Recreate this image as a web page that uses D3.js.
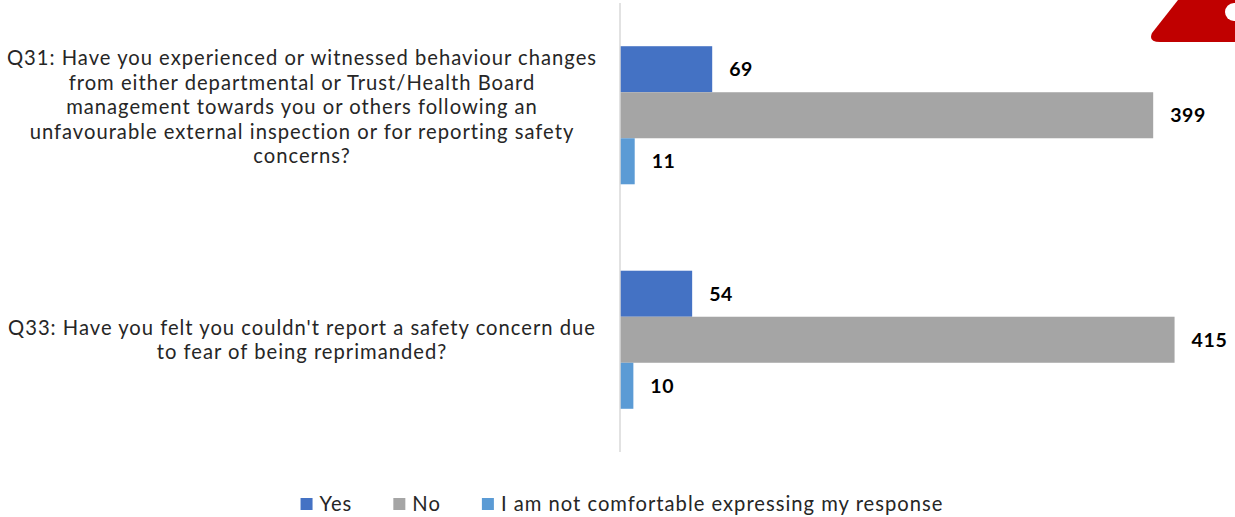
<!DOCTYPE html>
<html>
<head>
<meta charset="utf-8">
<script src="https://cdn.jsdelivr.net/npm/d3@7"></script>
<style>
  html, body { margin: 0; padding: 0; background: #fff; }
  svg { display: block; font-family: Lato, "Open Sans", sans-serif; }
</style>
</head>
<body>
<svg id="chart" width="1235" height="517"></svg>
<script>
// Survey questions (each entry is the wrapped lines of the question)
const questions = ["Q31", "Q33"];
const questionLines = [
  ["Q31: Have you experienced or witnessed behaviour changes",
   "from either departmental or Trust/Health Board",
   "management towards you or others following an",
   "unfavourable external inspection or for reporting safety",
   "concerns?"],
  ["Q33: Have you felt you couldn't report a safety concern due",
   "to fear of being reprimanded?"]
];
const seriesNames = ["Yes", "No", "I am not comfortable expressing my response"];
const yesValues = [69, 54];
const noValues = [399, 415];
const notComfortableValues = [11, 10];
const seriesColors = ["#4472C4", "#A5A5A5", "#5B9BD5"];

const seriesValues = [yesValues, noValues, notComfortableValues];

const svg = d3.select("#chart");
const textColor = "#262626";
const labelSize = 20.2;
const labelTracking = 1.0;

const plot = { left: 620, right: 1220, top: 3, bottom: 452 };

const x = d3.scaleLinear()
  .domain([0, 449])
  .range([plot.left, plot.right]);

const y0 = d3.scaleBand()
  .domain(questions)
  .range([plot.top, plot.bottom])
  .paddingInner(0.385)
  .paddingOuter(0.1925);

const y1 = d3.scaleBand()
  .domain(seriesNames)
  .range([0, y0.bandwidth()]);

// Bars with value labels
questions.forEach((q, qi) => {
  const g = svg.append("g").attr("transform", `translate(0,${y0(q)})`);
  seriesNames.forEach((s, si) => {
    const v = seriesValues[si][qi];
    g.append("rect")
      .attr("x", x(0))
      .attr("y", y1(s))
      .attr("width", x(v) - x(0))
      .attr("height", y1.bandwidth())
      .attr("fill", seriesColors[si]);
    g.append("text")
      .attr("x", x(v) + 17)
      .attr("y", y1(s) + y1.bandwidth() / 2)
      .attr("dy", "0.35em")
      .attr("font-size", 19.5)
      .attr("font-weight", "bold")
      .attr("letter-spacing", 0.6)
      .attr("fill", "#000")
      .text(v);
  });
});

// Category axis line
svg.append("line")
  .attr("x1", x(0)).attr("x2", x(0))
  .attr("y1", plot.top).attr("y2", plot.bottom)
  .attr("stroke", "#D9D9D9")
  .attr("stroke-width", 1.5);

// Category labels, one text per wrapped line, centred on each group of bars
const lineHeight = 24.5;
questions.forEach((q, qi) => {
  const lines = questionLines[qi];
  const cy = y0(q) + y0.bandwidth() / 2;
  const startY = cy - (lines.length - 1) * lineHeight / 2 - (lines.length > 3 ? 8 : 0);
  lines.forEach((line, li) => {
    svg.append("text")
      .attr("x", 302)
      .attr("y", startY + li * lineHeight)
      .attr("dy", "0.35em")
      .attr("text-anchor", "middle")
      .attr("font-size", labelSize)
      .attr("letter-spacing", labelTracking)
      .attr("fill", textColor)
      .text(line);
  });
});

// Legend, centred under the chart
const legendY = 504;
const swatch = 12, swatchGap = 7, itemGap = 41;
const legend = svg.append("g");
let cursor = 0;
seriesNames.forEach((name, i) => {
  const item = legend.append("g").attr("transform", `translate(${cursor},0)`);
  item.append("rect")
    .attr("x", 0)
    .attr("y", legendY - swatch / 2)
    .attr("width", swatch)
    .attr("height", swatch)
    .attr("fill", seriesColors[i]);
  const label = item.append("text")
    .attr("x", swatch + swatchGap)
    .attr("y", legendY)
    .attr("dy", "0.35em")
    .attr("font-size", labelSize)
    .attr("letter-spacing", labelTracking)
    .attr("fill", textColor)
    .text(name);
  cursor += swatch + swatchGap + label.node().getComputedTextLength() + itemGap;
});
const legendWidth = cursor - itemGap;
legend.attr("transform", `translate(${622 - legendWidth / 2},0)`);

// Corner badge
svg.append("path")
  .attr("d", "M1178,0 L1240,0 L1240,42 L1160,42 Q1148,42 1152,33 Z")
  .attr("fill", "#C00000");
svg.append("circle")
  .attr("cx", 1234).attr("cy", 12).attr("r", 9)
  .attr("fill", "#fff");
</script>
</body>
</html>
